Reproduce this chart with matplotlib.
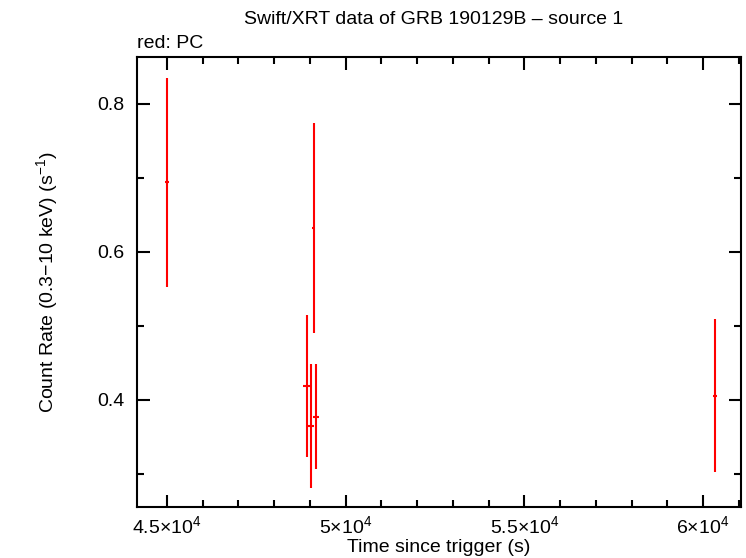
import matplotlib
matplotlib.use("Agg")
import matplotlib.pyplot as plt
from matplotlib.ticker import MultipleLocator

plt.rcParams['font.family'] = ['Liberation Sans', 'DejaVu Sans']
plt.rcParams['mathtext.fontset'] = 'custom'
plt.rcParams['mathtext.rm'] = 'Liberation Sans'
plt.rcParams['mathtext.default'] = 'regular'

# Data (PC mode)
time = [45000, 48909, 49021, 49105, 49161, 60336]
time_err = [56, 93, 93, 37, 84, 56]
rate = [0.695, 0.4189, 0.3649, 0.6328, 0.3774, 0.4054]
rate_lo = [0.142, 0.0955, 0.0834, 0.1427, 0.0702, 0.1022]
rate_hi = [0.140, 0.0960, 0.0837, 0.1411, 0.0712, 0.1037]

xticks = [45000, 50000, 55000, 60000]
xlabels = [r'$4.5{\times}10^4$', r'$5{\times}10^4$', r'$5.5{\times}10^4$', r'$6{\times}10^4$']
yticks = [0.4, 0.6, 0.8]

fig = plt.figure(figsize=(7.46, 5.58), dpi=100)
ax = fig.add_axes([137/746, 1 - 507/558, (741-137)/746, (507-57)/558])

ax.errorbar(time, rate, xerr=time_err, yerr=[rate_lo, rate_hi],
            fmt='none', ecolor='red', elinewidth=1.5, capsize=0)

ax.set_xlim(44160, 61063)
ax.set_ylim(0.2554, 0.8635)
ax.set_xticks(xticks)
ax.set_xticklabels(xlabels)
ax.set_yticks(yticks)
ax.xaxis.set_minor_locator(MultipleLocator(1000))
ax.yaxis.set_minor_locator(MultipleLocator(0.1))
ax.tick_params(which='both', direction='in', top=True, right=True, width=1.5, labelsize=14)
ax.tick_params(axis='x', which='major', length=9, pad=6)
ax.tick_params(axis='y', which='major', length=9, pad=9)
ax.tick_params(which='minor', length=5)
for s in ax.spines.values():
    s.set_linewidth(1.5)

fig.text(439/746, 1 - 547/558, 'Time since trigger (s)', ha='center', va='center', fontsize=14)
fig.text(47/746, 1 - 282/558, r'Count Rate (0.3$-$10 keV) (s$^{-1}$)',
         rotation=90, ha='center', va='center', fontsize=14)
fig.text(434/746, 1 - 20/558, 'Swift/XRT data of GRB 190129B \u2013 source 1',
         ha='center', va='center', fontsize=14)
fig.text(137/746, 1 - 43/558, 'red: PC', ha='left', va='center', fontsize=14)

fig.savefig('out.png', dpi=100)
